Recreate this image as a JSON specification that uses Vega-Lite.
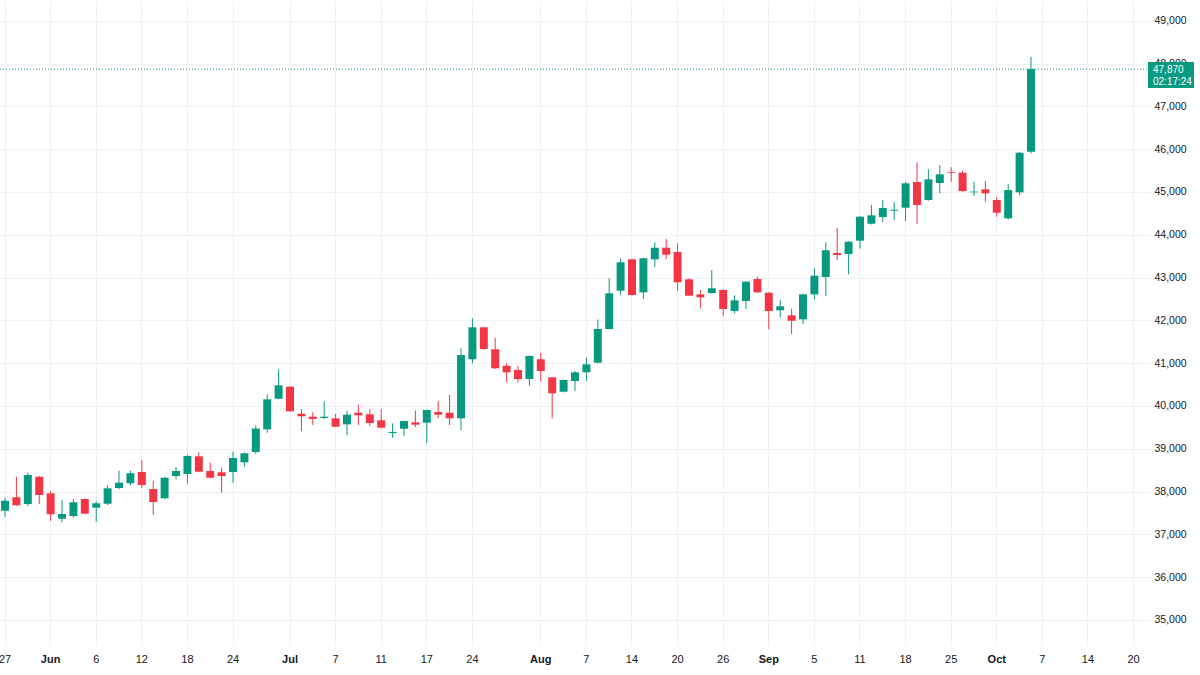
{
  "$schema": "https://vega.github.io/schema/vega-lite/v6.json",
  "width": 1150,
  "height": 645,
  "autosize": {"type": "none"},
  "padding": {"left": 0, "top": 0, "right": 50, "bottom": 30},
  "background": "white",
  "config": {
    "view": {"stroke": null},
    "axis": {
      "labelFont": "Liberation Sans, sans-serif",
      "labelFontSize": 11,
      "labelColor": "#131722",
      "gridColor": "#eef0f4",
      "gridWidth": 1,
      "domain": false,
      "ticks": false,
      "title": null
    }
  },
  "layer": [
    {
      "data": {
        "values": [
          {"date": "2025-05-27", "open": 37552, "high": 37848, "low": 37412, "close": 37785},
          {"date": "2025-05-28", "open": 37865, "high": 38346, "low": 37661, "close": 37678},
          {"date": "2025-05-29", "open": 37708, "high": 38439, "low": 37661, "close": 38386},
          {"date": "2025-05-30", "open": 38346, "high": 38360, "low": 37708, "close": 37918},
          {"date": "2025-06-02", "open": 37958, "high": 38012, "low": 37318, "close": 37468},
          {"date": "2025-06-03", "open": 37365, "high": 37802, "low": 37281, "close": 37475},
          {"date": "2025-06-04", "open": 37428, "high": 37825, "low": 37388, "close": 37748},
          {"date": "2025-06-05", "open": 37825, "high": 37840, "low": 37470, "close": 37482},
          {"date": "2025-06-06", "open": 37622, "high": 37771, "low": 37295, "close": 37725},
          {"date": "2025-06-09", "open": 37715, "high": 38145, "low": 37685, "close": 38075},
          {"date": "2025-06-10", "open": 38082, "high": 38486, "low": 38051, "close": 38206},
          {"date": "2025-06-11", "open": 38191, "high": 38486, "low": 38136, "close": 38425},
          {"date": "2025-06-12", "open": 38456, "high": 38729, "low": 38075, "close": 38152},
          {"date": "2025-06-13", "open": 38058, "high": 38253, "low": 37458, "close": 37755},
          {"date": "2025-06-16", "open": 37841, "high": 38340, "low": 37825, "close": 38323},
          {"date": "2025-06-17", "open": 38362, "high": 38573, "low": 38285, "close": 38479},
          {"date": "2025-06-18", "open": 38409, "high": 38860, "low": 38182, "close": 38829},
          {"date": "2025-06-19", "open": 38822, "high": 38916, "low": 38449, "close": 38463},
          {"date": "2025-06-20", "open": 38479, "high": 38673, "low": 38308, "close": 38323},
          {"date": "2025-06-23", "open": 38449, "high": 38556, "low": 37972, "close": 38362},
          {"date": "2025-06-24", "open": 38456, "high": 38930, "low": 38206, "close": 38783},
          {"date": "2025-06-25", "open": 38682, "high": 38916, "low": 38579, "close": 38893},
          {"date": "2025-06-26", "open": 38923, "high": 39547, "low": 38876, "close": 39472},
          {"date": "2025-06-27", "open": 39453, "high": 40271, "low": 39374, "close": 40154},
          {"date": "2025-06-30", "open": 40168, "high": 40855, "low": 40154, "close": 40481},
          {"date": "2025-07-01", "open": 40449, "high": 40460, "low": 39860, "close": 39874},
          {"date": "2025-07-02", "open": 39818, "high": 39928, "low": 39414, "close": 39757},
          {"date": "2025-07-03", "open": 39748, "high": 39851, "low": 39554, "close": 39694},
          {"date": "2025-07-04", "open": 39717, "high": 40108, "low": 39694, "close": 39748},
          {"date": "2025-07-07", "open": 39710, "high": 39811, "low": 39510, "close": 39514},
          {"date": "2025-07-08", "open": 39570, "high": 39889, "low": 39313, "close": 39795},
          {"date": "2025-07-09", "open": 39841, "high": 40028, "low": 39554, "close": 39781},
          {"date": "2025-07-10", "open": 39804, "high": 39928, "low": 39530, "close": 39600},
          {"date": "2025-07-11", "open": 39664, "high": 39928, "low": 39477, "close": 39491},
          {"date": "2025-07-14", "open": 39367, "high": 39593, "low": 39257, "close": 39390},
          {"date": "2025-07-15", "open": 39467, "high": 39655, "low": 39297, "close": 39647},
          {"date": "2025-07-16", "open": 39617, "high": 39889, "low": 39507, "close": 39561},
          {"date": "2025-07-17", "open": 39608, "high": 39915, "low": 39126, "close": 39904},
          {"date": "2025-07-18", "open": 39858, "high": 40114, "low": 39711, "close": 39795},
          {"date": "2025-07-22", "open": 39841, "high": 40262, "low": 39554, "close": 39711},
          {"date": "2025-07-23", "open": 39711, "high": 41346, "low": 39437, "close": 41189},
          {"date": "2025-07-24", "open": 41089, "high": 42047, "low": 40996, "close": 41836},
          {"date": "2025-07-25", "open": 41836, "high": 41850, "low": 41315, "close": 41330},
          {"date": "2025-07-28", "open": 41323, "high": 41593, "low": 40865, "close": 40879},
          {"date": "2025-07-29", "open": 40939, "high": 40995, "low": 40552, "close": 40785},
          {"date": "2025-07-30", "open": 40839, "high": 40932, "low": 40552, "close": 40629},
          {"date": "2025-07-31", "open": 40629, "high": 41180, "low": 40472, "close": 41166},
          {"date": "2025-08-01", "open": 41089, "high": 41243, "low": 40566, "close": 40815},
          {"date": "2025-08-04", "open": 40668, "high": 40680, "low": 39711, "close": 40294},
          {"date": "2025-08-05", "open": 40332, "high": 40620, "low": 40317, "close": 40605},
          {"date": "2025-08-06", "open": 40582, "high": 40815, "low": 40348, "close": 40785},
          {"date": "2025-08-07", "open": 40785, "high": 41126, "low": 40582, "close": 40972},
          {"date": "2025-08-08", "open": 41010, "high": 42019, "low": 40995, "close": 41797},
          {"date": "2025-08-12", "open": 41797, "high": 42981, "low": 41785, "close": 42631},
          {"date": "2025-08-13", "open": 42692, "high": 43449, "low": 42584, "close": 43355},
          {"date": "2025-08-14", "open": 43425, "high": 43440, "low": 42575, "close": 42591},
          {"date": "2025-08-15", "open": 42654, "high": 43465, "low": 42498, "close": 43449},
          {"date": "2025-08-18", "open": 43425, "high": 43822, "low": 43245, "close": 43696},
          {"date": "2025-08-19", "open": 43696, "high": 43899, "low": 43425, "close": 43533},
          {"date": "2025-08-20", "open": 43596, "high": 43799, "low": 42685, "close": 42888},
          {"date": "2025-08-21", "open": 42958, "high": 42981, "low": 42568, "close": 42575},
          {"date": "2025-08-22", "open": 42607, "high": 42708, "low": 42280, "close": 42537},
          {"date": "2025-08-25", "open": 42638, "high": 43175, "low": 42625, "close": 42748},
          {"date": "2025-08-26", "open": 42708, "high": 42720, "low": 42100, "close": 42264},
          {"date": "2025-08-27", "open": 42217, "high": 42584, "low": 42163, "close": 42467},
          {"date": "2025-08-28", "open": 42451, "high": 42915, "low": 42264, "close": 42902},
          {"date": "2025-08-29", "open": 42965, "high": 43019, "low": 42640, "close": 42654},
          {"date": "2025-09-01", "open": 42645, "high": 42660, "low": 41790, "close": 42217},
          {"date": "2025-09-02", "open": 42234, "high": 42474, "low": 42070, "close": 42327},
          {"date": "2025-09-03", "open": 42117, "high": 42271, "low": 41680, "close": 41990},
          {"date": "2025-09-04", "open": 42023, "high": 42620, "low": 41913, "close": 42607},
          {"date": "2025-09-05", "open": 42607, "high": 43215, "low": 42491, "close": 43042},
          {"date": "2025-09-08", "open": 43012, "high": 43822, "low": 42568, "close": 43636},
          {"date": "2025-09-09", "open": 43572, "high": 44164, "low": 43409, "close": 43526},
          {"date": "2025-09-10", "open": 43549, "high": 43850, "low": 43075, "close": 43836},
          {"date": "2025-09-11", "open": 43860, "high": 44435, "low": 43673, "close": 44421},
          {"date": "2025-09-12", "open": 44257, "high": 44694, "low": 44240, "close": 44453},
          {"date": "2025-09-16", "open": 44414, "high": 44811, "low": 44304, "close": 44624},
          {"date": "2025-09-17", "open": 44561, "high": 44757, "low": 44343, "close": 44584},
          {"date": "2025-09-18", "open": 44631, "high": 45238, "low": 44320, "close": 45201},
          {"date": "2025-09-19", "open": 45231, "high": 45691, "low": 44243, "close": 44694},
          {"date": "2025-09-22", "open": 44811, "high": 45528, "low": 44795, "close": 45294},
          {"date": "2025-09-24", "open": 45208, "high": 45628, "low": 44967, "close": 45411},
          {"date": "2025-09-25", "open": 45458, "high": 45575, "low": 45238, "close": 45442},
          {"date": "2025-09-26", "open": 45449, "high": 45496, "low": 45005, "close": 45021},
          {"date": "2025-09-29", "open": 44991, "high": 45238, "low": 44904, "close": 45007},
          {"date": "2025-09-30", "open": 45061, "high": 45255, "low": 44771, "close": 44967},
          {"date": "2025-10-01", "open": 44811, "high": 44881, "low": 44421, "close": 44514},
          {"date": "2025-10-02", "open": 44383, "high": 45177, "low": 44360, "close": 45044},
          {"date": "2025-10-03", "open": 44991, "high": 45930, "low": 44928, "close": 45916},
          {"date": "2025-10-06", "open": 45939, "high": 48159, "low": 45902, "close": 47870}
        ]
      },
      "encoding": {
        "x": {
          "field": "date",
          "type": "ordinal",
          "scale": {
            "domain": ["2025-05-27","2025-05-28","2025-05-29","2025-05-30","2025-06-02","2025-06-03","2025-06-04","2025-06-05","2025-06-06","2025-06-09","2025-06-10","2025-06-11","2025-06-12","2025-06-13","2025-06-16","2025-06-17","2025-06-18","2025-06-19","2025-06-20","2025-06-23","2025-06-24","2025-06-25","2025-06-26","2025-06-27","2025-06-30","2025-07-01","2025-07-02","2025-07-03","2025-07-04","2025-07-07","2025-07-08","2025-07-09","2025-07-10","2025-07-11","2025-07-14","2025-07-15","2025-07-16","2025-07-17","2025-07-18","2025-07-22","2025-07-23","2025-07-24","2025-07-25","2025-07-28","2025-07-29","2025-07-30","2025-07-31","2025-08-01","2025-08-04","2025-08-05","2025-08-06","2025-08-07","2025-08-08","2025-08-12","2025-08-13","2025-08-14","2025-08-15","2025-08-18","2025-08-19","2025-08-20","2025-08-21","2025-08-22","2025-08-25","2025-08-26","2025-08-27","2025-08-28","2025-08-29","2025-09-01","2025-09-02","2025-09-03","2025-09-04","2025-09-05","2025-09-08","2025-09-09","2025-09-10","2025-09-11","2025-09-12","2025-09-16","2025-09-17","2025-09-18","2025-09-19","2025-09-22","2025-09-24","2025-09-25","2025-09-26","2025-09-29","2025-09-30","2025-10-01","2025-10-02","2025-10-03","2025-10-06","2025-10-07","2025-10-08","2025-10-09","2025-10-10","2025-10-14","2025-10-15","2025-10-16","2025-10-17","2025-10-20","2025-10-21"],
            "paddingInner": 0.3,
            "paddingOuter": 0.09
          },
          "axis": {
            "values": ["2025-05-27","2025-06-02","2025-06-06","2025-06-12","2025-06-18","2025-06-24","2025-07-01","2025-07-07","2025-07-11","2025-07-17","2025-07-24","2025-08-01","2025-08-07","2025-08-14","2025-08-20","2025-08-26","2025-09-01","2025-09-05","2025-09-11","2025-09-18","2025-09-25","2025-10-01","2025-10-07","2025-10-14","2025-10-20"],
            "labelExpr": "toNumber(slice(datum.value, 8)) <= 2 ? timeFormat(datetime(2025, toNumber(slice(datum.value, 5, 7)) - 1, 1), '%b') : '' + toNumber(slice(datum.value, 8))",
            "labelFontWeight": {"condition": {"test": "toNumber(slice(datum.value, 8)) <= 2", "value": 600}, "value": "normal"},
            "labelAngle": 0,
            "labelPadding": 8,
            "labelOverlap": false,
            "labelBound": false,
            "labelFlush": false,
            "grid": true,
            "bandPosition": 0.5
          }
        },
        "y": {
          "type": "quantitative",
          "scale": {"domain": [34414, 49484], "nice": false, "zero": false},
          "axis": {
            "orient": "right",
            "values": [35000, 36000, 37000, 38000, 39000, 40000, 41000, 42000, 43000, 44000, 45000, 46000, 47000, 48000, 49000],
            "format": ",.0f",
            "labelFontSize": 10.5,
            "labelPadding": 4,
            "grid": true
          }
        },
        "color": {
          "condition": {"test": "datum.open < datum.close", "value": "#089981"},
          "value": "#f23645"
        }
      },
      "layer": [
        {
          "mark": {"type": "rule", "strokeWidth": 1},
          "encoding": {
            "y": {"field": "low", "type": "quantitative"},
            "y2": {"field": "high"}
          }
        },
        {
          "mark": {"type": "bar", "minBandSize": 1},
          "encoding": {
            "y": {"field": "open", "type": "quantitative"},
            "y2": {"field": "close"}
          }
        }
      ]
    },
    {
      "data": {"values": [{"price": 47870, "label": "47,870", "timer": "02:17:24"}]},
      "layer": [
        {
          "mark": {"type": "rule", "color": "#089981", "strokeDash": [1, 2], "strokeWidth": 1},
          "encoding": {
            "y": {"field": "price", "type": "quantitative"}
          }
        },
        {
          "mark": {
            "type": "point",
            "shape": "M-1,-0.565H1V0.565H-1Z",
            "size": 2116,
            "filled": true,
            "opacity": 1,
            "color": "#089981",
            "strokeWidth": 0,
            "x": {"expr": "width + 21"},
            "yOffset": 6,
            "clip": false
          },
          "encoding": {
            "y": {"field": "price", "type": "quantitative"}
          }
        },
        {
          "mark": {
            "type": "text",
            "color": "white",
            "align": "left",
            "baseline": "middle",
            "font": "Liberation Sans, sans-serif",
            "fontSize": 10,
            "x": {"expr": "width + 3"},
            "yOffset": 1
          },
          "encoding": {
            "y": {"field": "price", "type": "quantitative"},
            "text": {"field": "label"}
          }
        },
        {
          "mark": {
            "type": "text",
            "color": "white",
            "align": "left",
            "baseline": "middle",
            "font": "Liberation Sans, sans-serif",
            "fontSize": 10,
            "x": {"expr": "width + 3"},
            "yOffset": 12.5
          },
          "encoding": {
            "y": {"field": "price", "type": "quantitative"},
            "text": {"field": "timer"}
          }
        }
      ]
    }
  ]
}
